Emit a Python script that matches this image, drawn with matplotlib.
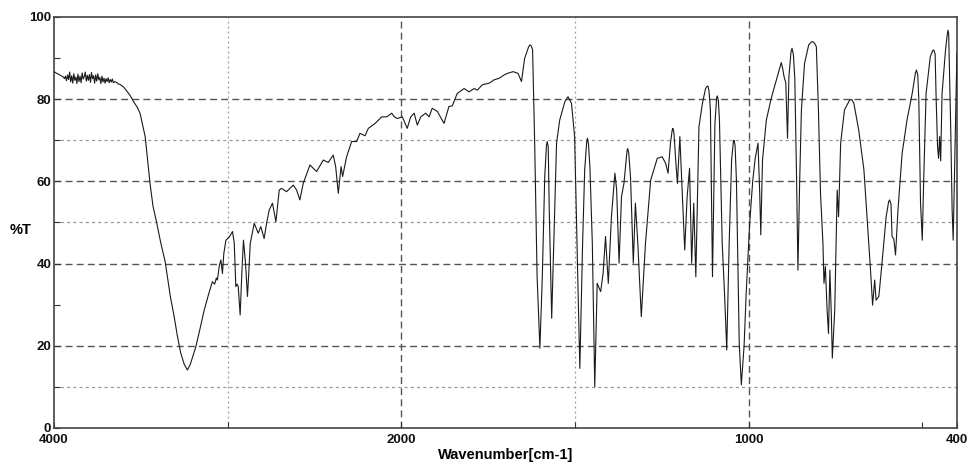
import matplotlib
matplotlib.use('Agg')
import numpy as np
import matplotlib.pyplot as plt

plt.rcParams['font.family'] = ['Liberation Sans', 'DejaVu Sans']

# IR spectrum, wavenumber [cm-1] vs %T, split in regions
# noisy baseline 4000-3620
wn_base = [4000, 3985, 3970, 3955, 3946, 3940, 3934, 3928, 3922, 3916, 3910, 3904, 3898, 3892,
           3886, 3880, 3874, 3868, 3862, 3856, 3850, 3844, 3838, 3832, 3826, 3820, 3814, 3808,
           3802, 3796, 3790, 3784, 3778, 3772, 3766, 3760, 3754, 3748, 3742, 3736, 3730, 3724,
           3718, 3712, 3706, 3700, 3694, 3688, 3682, 3676, 3670, 3664, 3658, 3650, 3640, 3630,
           3620]
t_base = [86.7, 86.3, 86.0, 85.6, 85.4, 85.0, 85.6, 84.5, 85.9, 84.8, 86.6, 84.2, 85.7, 83.9,
          86.2, 84.6, 85.4, 83.8, 86.1, 84.3, 85.6, 84.0, 86.4, 84.9, 85.5, 86.6, 84.4, 85.8,
          84.6, 86.0, 84.1, 86.5, 85.0, 85.7, 83.9, 85.9, 84.4, 86.2, 84.7, 85.3, 83.8, 85.6,
          84.2, 85.1, 83.9, 85.0, 84.3, 85.2, 84.0, 84.8, 84.2, 84.9, 84.0, 84.3, 84.1, 83.7,
          83.6]

# O-H / C-H stretch region 3600-2040
wn_oh = [3600, 3581, 3560, 3543, 3520, 3504, 3475, 3447, 3430, 3408, 3385, 3360, 3330, 3308,
         3290, 3270, 3250, 3232, 3215, 3200, 3183, 3160, 3135, 3110, 3088, 3075, 3065, 3059,
         3048, 3039, 3030, 3022, 3010, 2990, 2972, 2962, 2953, 2945, 2939, 2928, 2918, 2909,
         2897, 2886, 2878, 2870, 2847, 2824, 2809, 2790, 2775, 2761, 2742, 2722, 2703, 2690,
         2661, 2622, 2603, 2584, 2565, 2526, 2488, 2449, 2421, 2392, 2378, 2363, 2347, 2338,
         2315, 2286, 2257, 2238, 2209, 2190, 2151, 2113, 2084, 2055, 2040]
t_oh = [83.0, 82.0, 80.8, 79.5, 78.0, 76.5, 70.9, 59.5, 54.0, 49.8, 45.0, 40.5, 32.0, 27.1,
        22.5, 18.2, 15.5, 14.1, 15.5, 17.5, 19.8, 24.0, 28.7, 32.5, 35.6, 35.0, 36.5, 36.0,
        39.5, 40.9, 37.6, 42.5, 45.7, 46.5, 47.8, 45.0, 34.4, 35.0, 34.4, 27.5, 38.0, 45.7,
        40.0, 32.0, 38.0, 44.9, 49.8, 47.4, 49.0, 46.1, 50.0, 53.0, 54.7, 50.2, 57.9, 58.3,
        57.5, 59.1, 57.9, 55.5, 59.5, 64.0, 62.4, 65.2, 64.6, 66.4, 63.6, 57.1, 63.6, 61.2,
        66.0, 69.7, 69.7, 71.7, 71.1, 72.9, 74.1, 75.7, 75.7, 76.6, 75.7]

# overtone region 2023-1622
wn_ov = [2023, 1997, 1983, 1973, 1963, 1954, 1944, 1930, 1920, 1911, 1896, 1877, 1863, 1853,
         1839, 1819, 1805, 1790, 1781, 1767, 1747, 1733, 1718, 1704, 1694, 1678, 1664, 1654,
         1645, 1634, 1630, 1626, 1622]
t_ov = [75.3, 75.7, 72.9, 75.7, 76.6, 73.7, 75.7, 76.6, 75.7, 77.8, 77.0, 74.1, 78.2, 78.4,
        81.4, 82.6, 81.8, 82.6, 82.2, 83.5, 83.9, 84.7, 85.1, 85.9, 86.3, 86.7, 86.3, 84.3,
        89.9, 92.6, 93.2, 93.0, 92.0]

# fingerprint region 1616-1000
wn_fp = [1616, 1609, 1601, 1594, 1587, 1582, 1580, 1577, 1574, 1567, 1561, 1553, 1544, 1529,
         1520, 1510, 1501, 1494, 1486, 1478, 1472, 1466, 1464, 1461, 1457, 1450, 1443, 1436,
         1426, 1419, 1412, 1404, 1395, 1385, 1380, 1373, 1366, 1359, 1350, 1348, 1345, 1340,
         1332, 1326, 1319, 1309, 1297, 1282, 1263, 1249, 1239, 1232, 1225, 1220, 1218, 1215,
         1210, 1205, 1198, 1191, 1184, 1177, 1170, 1164, 1158, 1152, 1143, 1133, 1124, 1120,
         1117, 1114, 1110, 1104, 1097, 1092, 1090, 1087, 1084, 1076, 1069, 1063, 1056, 1049,
         1044, 1042, 1039, 1035, 1027, 1021, 1013, 1007]
t_fp = [69.3, 36.8, 19.4, 36.8, 61.2, 68.8, 69.7, 68.5, 53.0, 26.7, 44.9, 69.3, 74.9, 79.4,
        80.6, 79.0, 70.9, 44.9, 14.5, 44.9, 62.8, 69.8, 70.5, 69.0, 63.6, 44.9, 10.0, 35.2,
        33.2, 37.6, 46.6, 35.2, 51.4, 62.0, 58.0, 40.1, 56.3, 59.5, 67.5, 68.0, 66.8, 61.0,
        40.1, 54.7, 44.9, 27.1, 44.9, 60.3, 65.6, 66.0, 64.4, 62.0, 69.3, 72.5, 72.9, 71.8,
        65.2, 59.5, 70.9, 57.1, 43.3, 56.3, 63.2, 40.1, 54.7, 36.8, 73.3, 79.0, 82.6, 83.1,
        83.2, 82.0, 77.4, 36.8, 74.1, 80.4, 80.8, 79.6, 74.9, 44.9, 32.0, 19.0, 44.9, 65.2,
        69.6, 70.0, 68.8, 60.0, 20.6, 10.5, 20.0, 32.8]

# far region 997-400
wn_far = [997, 988, 981, 973, 968, 965, 960, 949, 935, 920, 906, 902, 898, 893, 888,
          884, 878, 875, 871, 867, 862, 858, 853, 848, 839, 827, 820, 815, 810, 805,
          799, 793, 786, 783, 779, 774, 770, 766, 762, 759, 752, 748, 745, 741, 735,
          724, 709, 703, 697, 683, 668, 659, 649, 643, 637, 633, 625, 616, 604, 597,
          594, 590, 587, 582, 577, 570, 558, 544, 529, 520, 517, 513, 510, 505, 500,
          496, 489, 477, 470, 467, 463, 460, 456, 453, 450, 447, 443, 433, 428, 426,
          424, 422, 418, 414, 411, 406, 402, 400]
t_far = [49.8, 60.3, 65.6, 69.3, 57.1, 47.0, 65.2, 74.9, 80.2, 84.7, 88.9, 87.5, 85.5, 84.0, 70.5,
         85.5, 91.5, 92.4, 90.8, 85.0, 61.2, 38.4, 60.0, 77.4, 88.7, 93.2, 93.9, 94.0, 93.6, 92.8,
         77.4, 57.1, 44.9, 35.2, 39.3, 28.7, 23.0, 38.4, 28.0, 17.0, 28.7, 44.9, 57.9, 51.4, 69.3,
         77.4, 79.8, 79.9, 79.0, 72.5, 62.8, 51.4, 38.4, 29.9, 36.0, 31.1, 32.0, 40.1, 51.4, 55.0,
         55.5, 54.5, 46.6, 46.0, 42.1, 53.0, 66.8, 74.9, 81.4, 86.2, 87.1, 86.0, 80.0, 54.7, 45.7,
         60.0, 81.4, 90.3, 91.8, 92.0, 91.0, 80.0, 68.4, 65.6, 70.9, 65.0, 81.4, 92.0, 95.8, 96.8,
         96.0, 88.0, 72.5, 53.0, 45.7, 67.6, 83.9, 91.2]

wavenumber = wn_base + wn_oh + wn_ov + wn_fp + wn_far
transmittance = t_base + t_oh + t_ov + t_fp + t_far

xticks = [4000, 2000, 1000, 400]
xminor = [3000, 1500, 500]
yticks = [0, 20, 40, 60, 80, 100]
yminor = [10, 30, 50, 70, 90]


# the spectrometer halves the scale above 2000 cm-1
def fwd(w):
    w = np.asarray(w, dtype=float)
    return np.where(w > 2000, 2000 + (w - 2000) / 2.0, w)


def inv(p):
    p = np.asarray(p, dtype=float)
    return np.where(p > 2000, 2000 + (p - 2000) * 2.0, p)


fig = plt.figure(figsize=(9.69, 4.74), dpi=100)
ax = fig.add_axes([54 / 969, 1 - 428 / 474, 903 / 969, 411 / 474])
ax.set_xscale('function', functions=(fwd, inv))
ax.set_xlim(4000, 400)
ax.set_ylim(0, 100)

# grid: dashed at 20/40/60/80 and 2000/1000, dotted at the rest
for y in [20, 40, 60, 80]:
    ax.axhline(y, color='#555555', lw=1.0, dashes=(5, 3), zorder=1)
for y in [10, 50, 70]:
    ax.axhline(y, color='#9a9a9a', lw=0.9, dashes=(2.5, 2.5), zorder=1)
for x in [2000, 1000]:
    ax.axvline(x, color='#555555', lw=1.0, dashes=(5, 3), zorder=1)
for x in [3000, 1500]:
    ax.axvline(x, color='#9a9a9a', lw=0.9, dashes=(1.5, 2.5), zorder=1)

ax.plot(wavenumber, transmittance, color='#1a1a1a', lw=0.8, zorder=3)

ax.set_xticks(xticks)
ax.set_xticklabels([str(v) for v in xticks])
ax.set_xticks(xminor, minor=True)
ax.set_yticks(yticks)
ax.set_yticks(yminor, minor=True)
ax.tick_params(which='both', direction='in', length=4, width=0.8, colors='#333333',
               labelcolor='#111111', labelsize=9.5)
ax.tick_params(axis='y', pad=2)
ax.tick_params(axis='x', pad=4)
for lbl in ax.get_xticklabels() + ax.get_yticklabels():
    lbl.set_fontweight('bold')

for side in ['left', 'right', 'top', 'bottom']:
    ax.spines[side].set_color('#444444')
    ax.spines[side].set_linewidth(1.2)

ax.set_xlabel('Wavenumber[cm-1]', fontsize=10.5, fontweight='bold', labelpad=2)
ax.set_ylabel('%T', fontsize=10.5, fontweight='bold', rotation=0)
ax.yaxis.set_label_coords(-0.037, 0.465)

plt.savefig('out.png', dpi=100)
plt.close()
